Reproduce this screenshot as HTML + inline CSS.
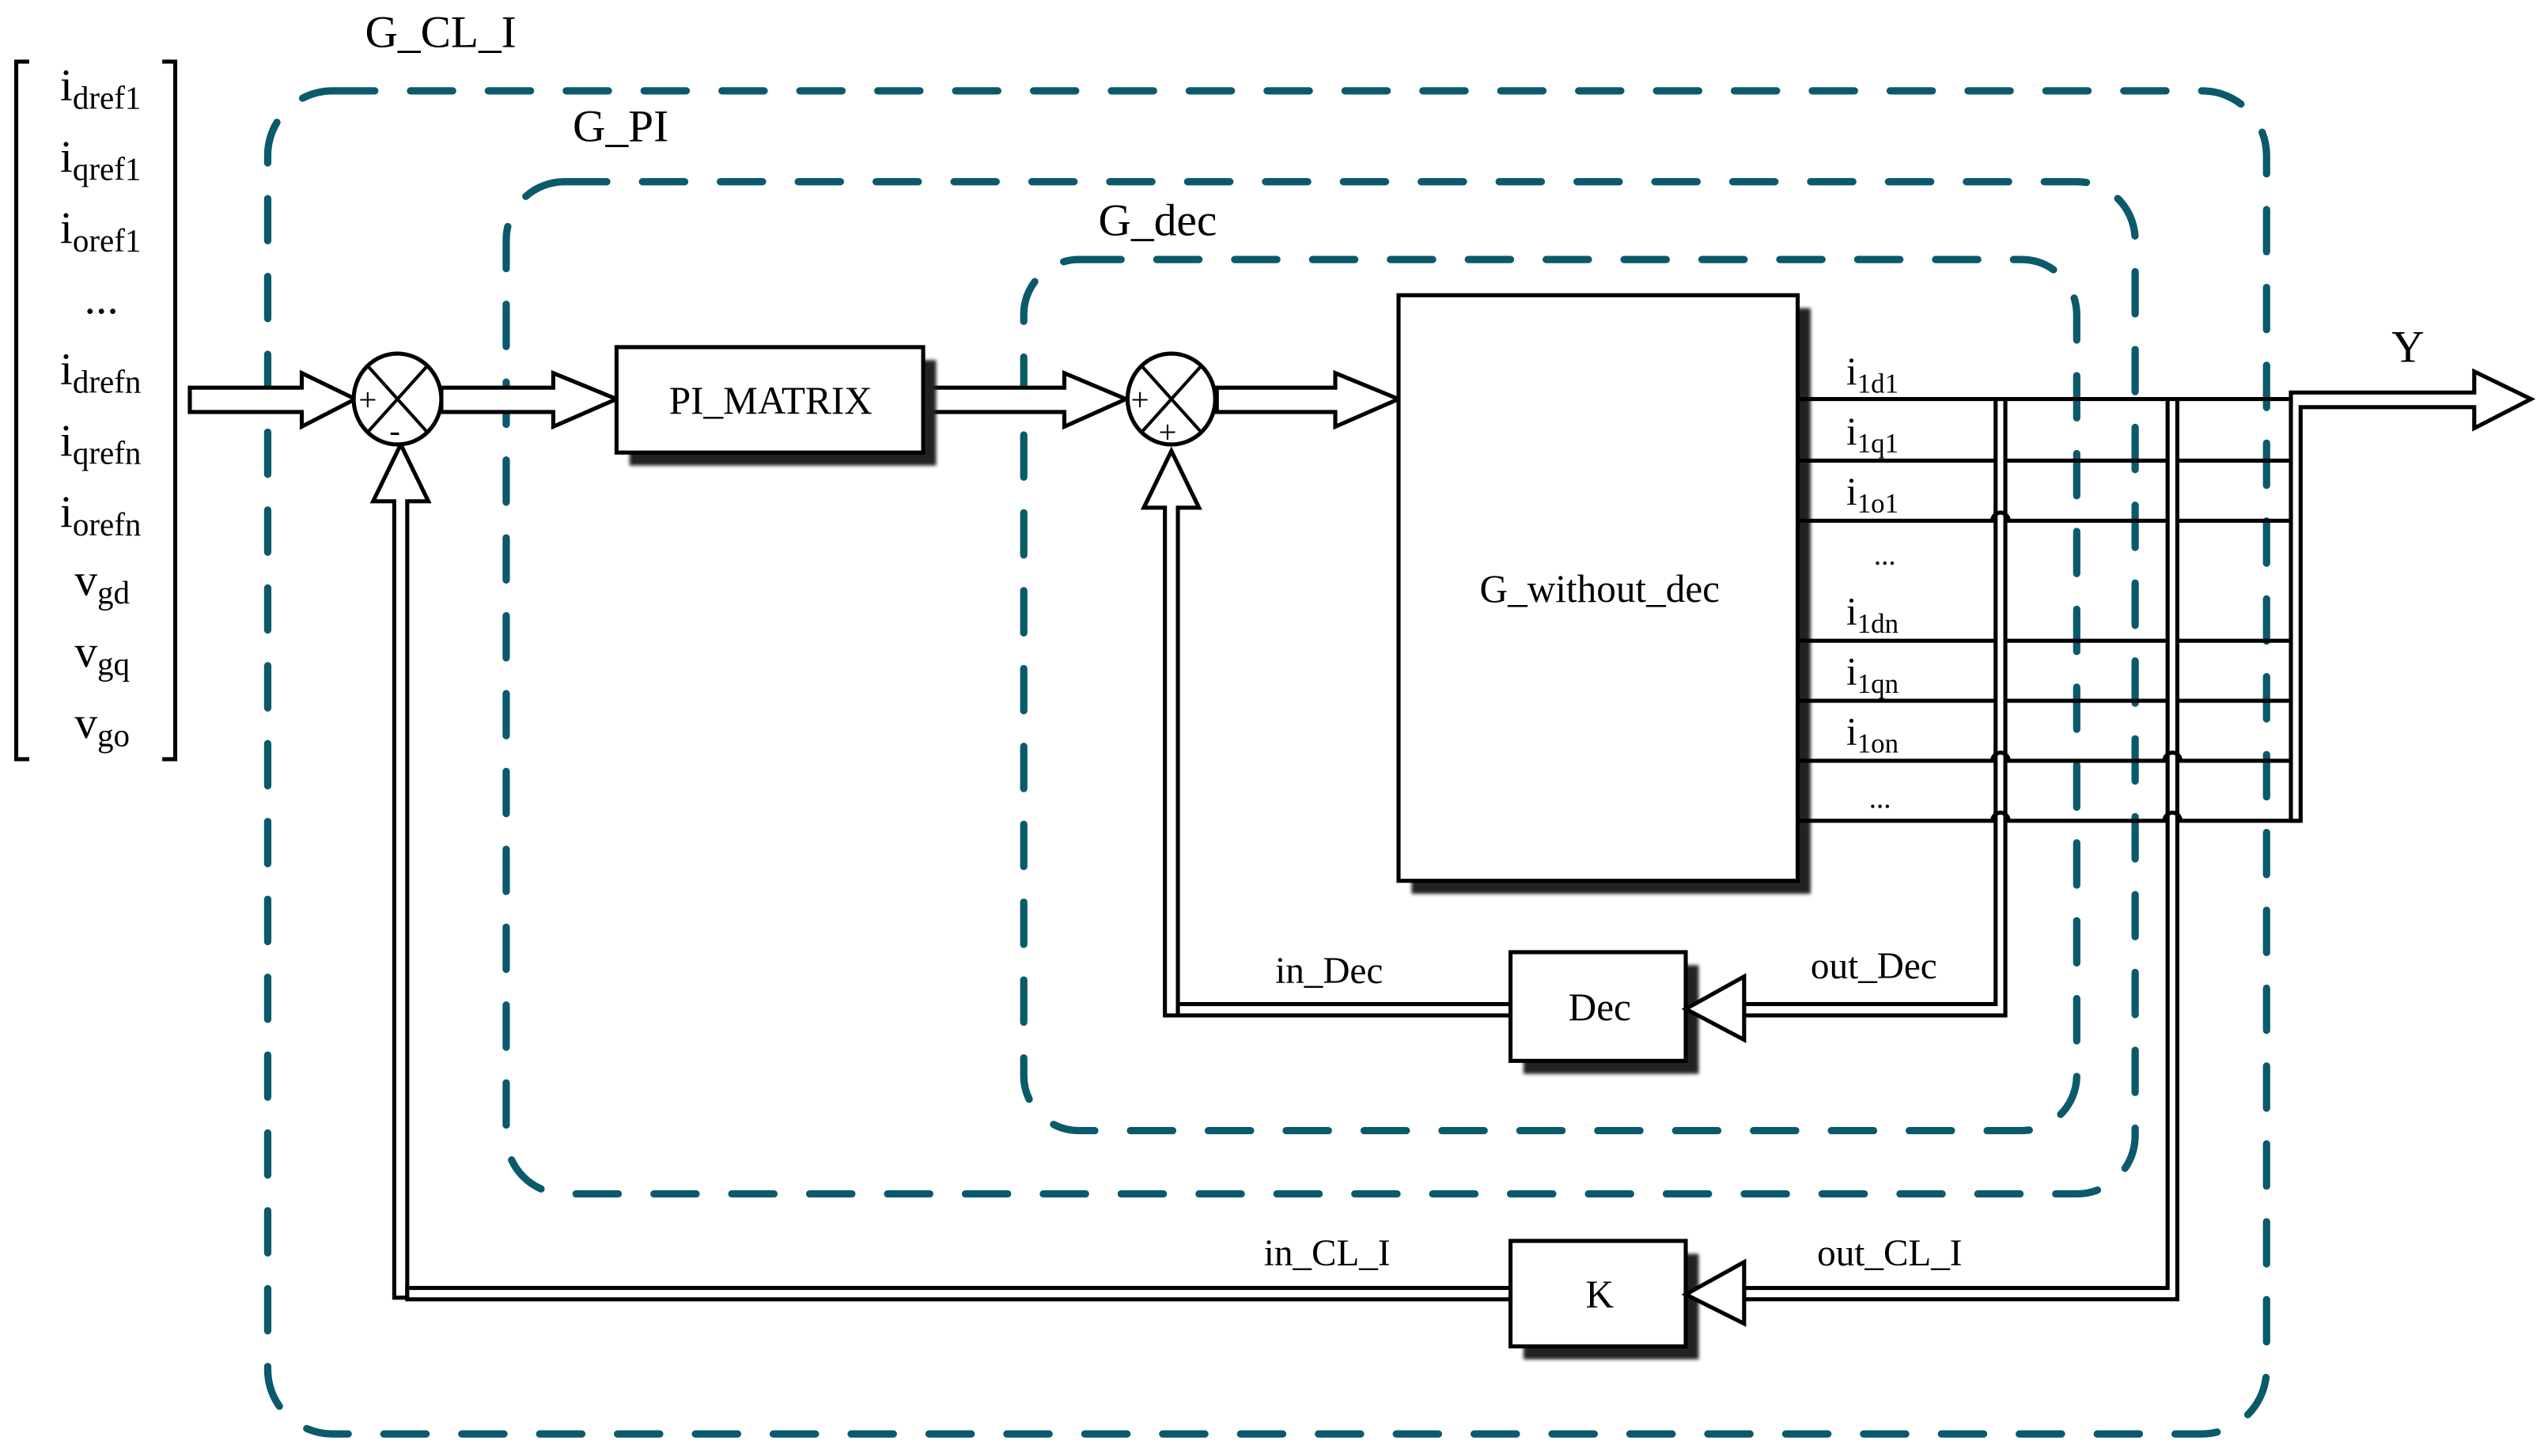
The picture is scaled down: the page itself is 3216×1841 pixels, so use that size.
<!DOCTYPE html>
<html><head><meta charset="utf-8"><style>
html,body{margin:0;padding:0;background:#fff;}
svg{display:block;}
svg text{font-family:"Liberation Serif","Times New Roman",serif;fill:#000;}
</style></head><body>
<svg width="3216" height="1841" viewBox="0 0 1568 897.6" preserveAspectRatio="none" xmlns="http://www.w3.org/2000/svg" font-family="Liberation Serif, serif">
<defs>
<filter id="sh" x="-10%" y="-10%" width="130%" height="130%"><feGaussianBlur stdDeviation="1"/></filter>
</defs>
<g fill="none" stroke="#0b5a6b" stroke-width="4.5" stroke-linecap="round" stroke-dasharray="26 22">
<rect x="165" y="56" width="1232" height="828" rx="40"/>
<rect x="312" y="112" width="1004" height="624" rx="36"/>
<rect x="631" y="160" width="649" height="537" rx="34"/>
</g>
<text x="225" y="29" font-size="28" font-family="Liberation Serif, serif">G_CL_I</text>
<text x="353" y="87" font-size="28" font-family="Liberation Serif, serif">G_PI</text>
<text x="677" y="145" font-size="28" font-family="Liberation Serif, serif">G_dec</text>

<g fill="none" stroke="#000" stroke-width="2.5">
<path d="M18,38 H10 V468 H18"/>
<path d="M100,38 H108 V468 H100"/>
</g>
<g font-size="28" font-family="Liberation Serif, serif">
<text x="37" y="62">i<tspan font-size="20" dy="5">dref1</tspan></text>
<text x="37" y="106">i<tspan font-size="20" dy="5">qref1</tspan></text>
<text x="37" y="150">i<tspan font-size="20" dy="5">oref1</tspan></text>
<text x="52" y="193">...</text>
<text x="37" y="237">i<tspan font-size="20" dy="5">drefn</tspan></text>
<text x="37" y="281">i<tspan font-size="20" dy="5">qrefn</tspan></text>
<text x="37" y="325">i<tspan font-size="20" dy="5">orefn</tspan></text>
<text x="46" y="367">v<tspan font-size="20" dy="5">gd</tspan></text>
<text x="46" y="411">v<tspan font-size="20" dy="5">gq</tspan></text>
<text x="46" y="455">v<tspan font-size="20" dy="5">go</tspan></text>
</g>

<g fill="#fff" stroke="#000" stroke-width="2.5" stroke-linejoin="miter">
<polygon points="117,239 186,239 186,230 219,246 186,263 186,254 117,254"/>
<polygon points="272,239 341,239 341,230 380,246 341,263 341,254 272,254"/>
<polygon points="569,239 656,239 656,230 694,246 656,263 656,254 569,254"/>
<polygon points="750,239 823,239 823,230 862,246 823,263 823,254 750,254"/>
<polygon points="243,800 243,309 230,309 247,274 264,309 251,309 251,800"/>
<polygon points="718,626 718,313 705,313 722,278 739,313 726,313 726,626"/>
</g>

<g fill="#fff" stroke="#000" stroke-width="2.5">
<ellipse cx="245" cy="246" rx="27" ry="28"/>
<ellipse cx="722" cy="246" rx="27" ry="28"/>
</g>
<g stroke="#000" stroke-width="2">
<line x1="227" y1="226" x2="263" y2="266"/><line x1="263" y1="226" x2="227" y2="266"/>
<line x1="704" y1="226" x2="740" y2="266"/><line x1="740" y1="226" x2="704" y2="266"/>
</g>
<g font-size="20" font-family="Liberation Serif, serif">
<text x="221" y="253">+</text><text x="240" y="272">-</text>
<text x="697" y="253">+</text><text x="714" y="273">+</text>
</g>

<g fill="#222" filter="url(#sh)">
<rect x="388" y="222" width="189" height="65"/>
<rect x="870" y="190" width="246" height="361"/>
<rect x="939" y="595" width="108" height="67"/>
<rect x="939" y="773" width="108" height="65"/>
</g>
<g fill="#fff" stroke="#000" stroke-width="2.5">
<rect x="380" y="214" width="189" height="65"/>
<rect x="862" y="182" width="246" height="361"/>
<rect x="931" y="587" width="108" height="67"/>
<rect x="931" y="765" width="108" height="65"/>
</g>
<g font-size="24" text-anchor="middle" font-family="Liberation Serif, serif">
<text x="475" y="255">PI_MATRIX</text>
<text x="986" y="371">G_without_dec</text>
<text x="986" y="629">Dec</text>
<text x="986" y="806">K</text>
</g>

<g stroke="#000" stroke-width="2.5" fill="none">
<line x1="1108" y1="246" x2="1412" y2="246"/>
<line x1="1108" y1="284" x2="1412" y2="284"/>
<line x1="1108" y1="321" x2="1412" y2="321"/>
<line x1="1108" y1="395" x2="1412" y2="395"/>
<line x1="1108" y1="432" x2="1412" y2="432"/>
<line x1="1108" y1="469" x2="1412" y2="469"/>
<line x1="1108" y1="506" x2="1418" y2="506"/>
</g>
<g font-size="24" font-family="Liberation Serif, serif">
<text x="1138" y="237">i<tspan font-size="17" dy="5">1d1</tspan></text>
<text x="1138" y="274">i<tspan font-size="17" dy="5">1q1</tspan></text>
<text x="1138" y="311">i<tspan font-size="17" dy="5">1o1</tspan></text>
<text x="1155" y="348" font-size="18">...</text>
<text x="1138" y="385">i<tspan font-size="17" dy="5">1dn</tspan></text>
<text x="1138" y="422">i<tspan font-size="17" dy="5">1qn</tspan></text>
<text x="1138" y="459">i<tspan font-size="17" dy="5">1on</tspan></text>
<text x="1152" y="498" font-size="18">...</text>
</g>

<g fill="#fff" stroke="#000" stroke-width="2.5">
<polygon points="1230,246 1236,246 1236,626 1075,626 1075,619 1230,619"/>
<polygon points="1336,246 1342,246 1342,801 1075,801 1075,794 1336,794"/>
<polygon points="1075,602 1075,641 1039,622"/>
<polygon points="1075,778 1075,816 1039,798"/>
<rect x="726" y="619" width="205" height="7"/>
<rect x="251" y="794" width="680" height="7"/>
<polygon points="1412,242 1525,242 1525,229 1560,246 1525,264 1525,251 1418,251 1418,506 1412,506"/>
</g>
<g fill="none" stroke="#000" stroke-width="2.5">
<path d="M1228,321 a5,5 0 0 1 10,0"/><path d="M1228,469 a5,5 0 0 1 10,0"/><path d="M1228,506 a5,5 0 0 1 10,0"/>
<path d="M1334,469 a5,5 0 0 1 10,0"/><path d="M1334,506 a5,5 0 0 1 10,0"/>
</g>
<g font-size="23" font-family="Liberation Serif, serif">
<text x="786" y="606">in_Dec</text>
<text x="1116" y="603">out_Dec</text>
<text x="779" y="780">in_CL_I</text>
<text x="1120" y="780">out_CL_I</text>
<text x="1474" y="223" font-size="28">Y</text>
</g>
</svg>
</body></html>
